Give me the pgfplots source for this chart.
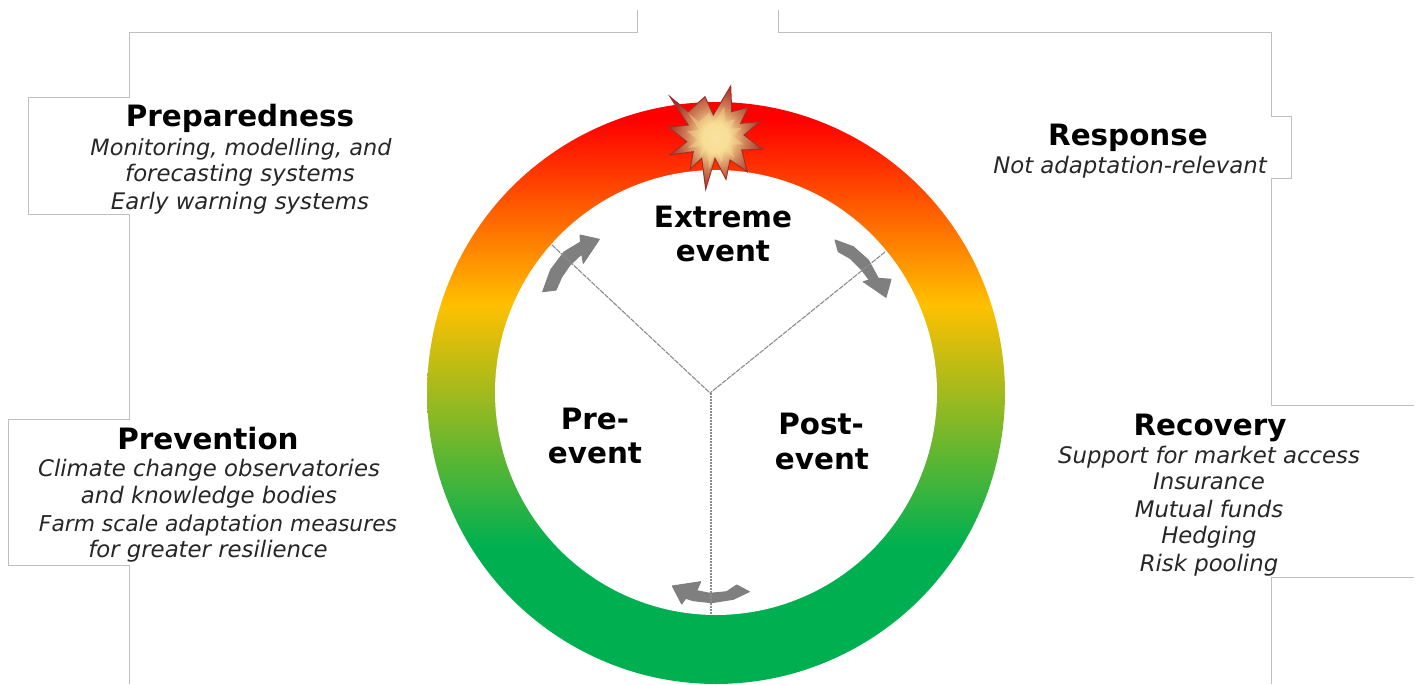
\documentclass[border=0pt]{standalone}
\usepackage{fontspec}
\setmainfont{DejaVu Sans}
\usepackage{pgfplots}
\pgfplotsset{compat=1.18}
\definecolor{boxgray}{HTML}{BFBFBF}
\definecolor{arrowgray}{HTML}{7F7F7F}
\definecolor{spoke}{HTML}{8C8C8C}
\definecolor{ringgreen}{HTML}{00B050}
\definecolor{ringyellow}{HTML}{FFC000}
\definecolor{ringred}{HTML}{FF0000}
\definecolor{burstA}{HTML}{FBE8A6}
\definecolor{burstB}{HTML}{F8DE96}
\definecolor{burstC}{HTML}{CD7D55}
\definecolor{burstD}{HTML}{AA3228}
\definecolor{burstE}{HTML}{A52D28}
\pgfdeclareverticalshading{ringgrad}{100bp}{
 color(0bp)=(ringgreen);
 color(25bp)=(ringgreen);
 color(36.9bp)=(ringgreen);
 color(57.6bp)=(ringyellow);
 color(73.5bp)=(ringred);
 color(100bp)=(ringred)}
\pgfdeclareradialshading{burst}{\pgfpoint{0bp}{0bp}}{
 color(0bp)=(burstA);
 color(7bp)=(burstB);
 color(16bp)=(burstC);
 color(25bp)=(burstD);
 color(50bp)=(burstD)}
\newcommand{\hd}[3]{\node[anchor=base,inner sep=0pt,font=\fontsize{29.4}{29.4}\selectfont\bfseries] at (axis cs:#1,#2) {#3};}
\newcommand{\tx}[4][22.8]{\node[anchor=base,inner sep=0pt,text=black!85,font=\fontsize{#1}{#1}\selectfont\itshape] at (axis cs:#2,#3) {#4};}
\begin{document}
\begin{tikzpicture}
\begin{axis}[
 scale only axis, width=1418pt, height=684pt,
 xmin=0, xmax=1418, ymin=0, ymax=684, y dir=reverse,
 hide axis, clip=false]
\addplot[draw=none,forget plot] coordinates {(0,0) (1418,684)};
% outer disk of the ring
\addplot[draw=none, shading=ringgrad, /tikz/smooth cycle, /tikz/tension=0.6] coordinates {
(1005,393)(995.1,317.7)(966.3,247.5)(920.4,187.2)(860.5,141)(790.8,111.9)(716,102)
(641.2,111.9)(571.5,141)(511.6,187.2)(465.7,247.5)(436.9,317.7)(427,393)
(436.9,468.3)(465.7,538.5)(511.6,598.8)(571.5,645)(641.2,674.1)(716,684)
(790.8,674.1)(860.5,645)(920.4,598.8)(966.3,538.5)(995.1,468.3)};
% inner disk
\addplot[draw=none, fill=white, /tikz/smooth cycle, /tikz/tension=0.6] coordinates {
(937,392.5)(929.5,334.9)(907.4,281.25)(872.3,235.2)(826.5,199.8)(773.2,177.6)(716,170)
(658.8,177.6)(605.5,199.8)(559.7,235.2)(524.6,281.25)(502.5,334.9)(495,392.5)
(502.5,450.1)(524.6,503.75)(559.7,549.8)(605.5,585.2)(658.8,607.4)(716,615)
(773.2,607.4)(826.5,585.2)(872.3,549.8)(907.4,503.75)(929.5,450.1)};
% curved arrows
\addplot[draw=arrowgray, line width=1pt, line join=round, fill=arrowgray] coordinates {
(542.7,291.7)(556,290)(561.7,277)(570,265)(581.7,254)(583.3,263.3)(599.3,239.3)
(580,235)(580.5,242)(564,252)(550.5,270)} --cycle;
\addplot[draw=arrowgray, line width=1pt, line join=round, fill=arrowgray] coordinates {
(835,240)(853.3,246.7)(868.3,260)(878.3,278.3)(891,279.3)(886,297.3)(863.3,281.7)
(869.3,280)(861.7,270)(850,258.3)(838.3,251.7)} --cycle;
\addplot[draw=arrowgray, line width=1pt, line join=round, fill=arrowgray] coordinates {
(672.3,586)(700.7,581.7)(696.7,590.7)(710,593.3)(726.7,591.7)(736.7,585)(749.3,591.7)
(733.3,599.3)(711.7,602.7)(693.3,600.7)(685.7,598.3)(681.7,604)} --cycle;
% spokes
\addplot[spoke, line width=1.1pt, dash pattern=on 5pt off 1pt] coordinates {(552,245)(710,393)};
\addplot[spoke, line width=1.1pt, dash pattern=on 5pt off 1pt] coordinates {(885,252)(710,393)};
\addplot[spoke, line width=1.1pt, dash pattern=on 2pt off 1pt] coordinates {(711,393)(711,614)};
% starburst
\addplot[draw=burstE, line width=1pt, shading=burst] coordinates {
(670,96.7)(688.3,111.7)(705,96.7)(713.3,115)(730.7,86)(731.7,111.7)(748.3,107.3)(740.7,123.3)
(760,121.7)(744,135)(762.7,149.3)(741.7,150)(747.3,171.7)(730,160)(726,179.3)(715,158.3)
(705.7,189.3)(701.7,158.3)(690,169.3)(693.3,151.7)(670,155)(686.7,141.7)(668.3,127.3)(688.3,125)} --cycle;
\addplot[draw=none, fill=burstB, fill opacity=0.4] coordinates {
(688,112.8)(699,121.8)(709,112.8)(714,123.8)(724.4,106.4)(725,121.8)(735,119.2)(730.4,128.8)
(742,127.8)(732.4,135.8)(743.6,144.4)(731,144.8)(734.4,157.8)(724,150.8)(721.6,162.4)(715,149.8)
(709.4,168.4)(707,149.8)(700,156.4)(702,145.8)(688,147.8)(698,139.8)(687,131.2)(699,129.8)} --cycle;
% frame lines
\addplot[boxgray, line width=1pt] coordinates {(637,10)(637,33)(129,33)(129,98)(28,98)(28,214)(129,214)(129,419)(8,419)(8,565)(129,565)(129,684)};
\addplot[boxgray, line width=1pt] coordinates {(778,10)(778,33)(1271,33)(1271,117)(1291,117)(1291,179)(1271,179)(1271,405)(1414,405)};
\addplot[boxgray, line width=1pt] coordinates {(1414,577)(1271,577)(1271,684)};
% text
\hd{240}{127}{Preparedness}
\tx[22.4]{241}{156}{Monitoring, modelling, and}
\tx{240}{182}{forecasting systems}
\tx{240}{210}{Early warning systems}
\hd{1128}{146}{Response}
\tx{1130}{174}{Not adaptation-relevant}
\hd{208}{449}{Prevention}
\tx{209}{476}{Climate change observatories}
\tx{209}{503}{and knowledge bodies}
\tx[21.8]{218}{531}{Farm scale adaptation measures}
\tx{208}{557}{for greater resilience}
\hd{1210}{435}{Recovery}
\tx{1209}{463}{Support for market access}
\tx{1209}{489}{Insurance}
\tx{1209}{517}{Mutual funds}
\tx{1209}{543}{Hedging}
\tx{1209}{571}{Risk pooling}
\hd{723}{227}{Extreme}
\hd{723}{261}{event}
\hd{595}{429}{Pre-}
\hd{595}{463}{event}
\hd{821}{434}{Post-}
\hd{822}{469}{event}
\end{axis}
\end{tikzpicture}
\end{document}
